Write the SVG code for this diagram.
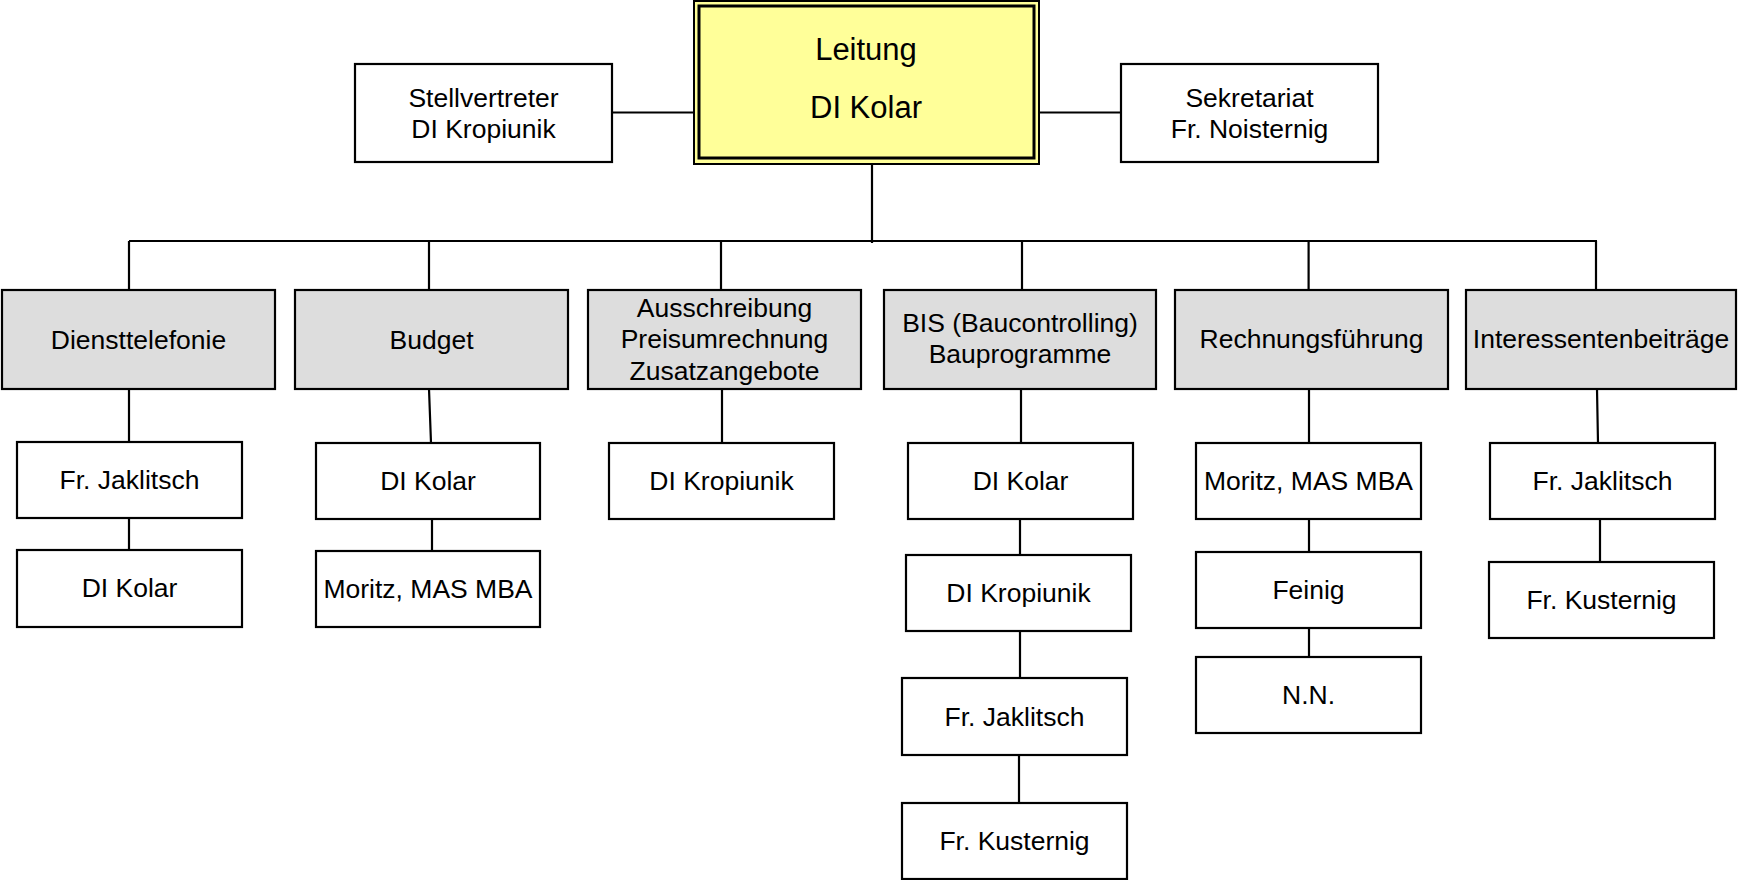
<svg xmlns="http://www.w3.org/2000/svg" width="1738" height="880" viewBox="0 0 1738 880">
<style>
.b{fill:#fff;stroke:#000;stroke-width:2.2}
.g{fill:#dddddd;stroke:#000;stroke-width:2.2}
.y{fill:#ffff99;stroke:#000}
.t{font-family:"Liberation Sans",Arial,sans-serif;font-size:26.5px;fill:#000;text-anchor:middle}
.tl{font-size:31px}
.c{fill:none;stroke:#000;stroke-width:2.2}
</style>
<rect width="1738" height="880" fill="#fff"/>
<g id="connectors" class="c">
<path d="M612 112.5H694M1039 112.5H1121M872 164V243M129 241H1597"/>
<path d="M129 241V290M429 241V290M721 241V290M1022 241V290M1308.6 241V290M1596 241V290"/>
<path d="M129 389V442M429 389L431 443M722 389V443M1021 389V443M1309 389V443M1597 389L1598 443"/>
<path d="M129 518V550M432 519V551M1020 519V555M1020 631V678M1019 755V803M1309 519V552M1309 628V657M1600 519V562"/>
</g>
<g id="leitung">
<rect class="y" x="694" y="1" width="345" height="163" stroke-width="2"/>
<rect class="y" x="699" y="6" width="335" height="152" stroke-width="3"/>
<text class="t tl" x="866" y="60">Leitung</text>
<text class="t tl" x="866" y="118">DI Kolar</text>
</g>
<g id="stellvertreter">
<rect class="b" x="355" y="64" width="257" height="98"/>
<text class="t" x="483.5" y="107">Stellvertreter</text>
<text class="t" x="483.5" y="138">DI Kropiunik</text>
</g>
<g id="sekretariat">
<rect class="b" x="1121" y="64" width="257" height="98"/>
<text class="t" x="1249.5" y="107">Sekretariat</text>
<text class="t" x="1249.5" y="138">Fr. Noisternig</text>
</g>
<g id="diensttelefonie">
<rect class="g" x="2" y="290" width="273" height="99"/>
<text class="t" x="138.5" y="349">Diensttelefonie</text>
</g>
<g id="budget">
<rect class="g" x="295" y="290" width="273" height="99"/>
<text class="t" x="431.5" y="349">Budget</text>
</g>
<g id="ausschreibung">
<rect class="g" x="588" y="290" width="273" height="99"/>
<text class="t" x="724.5" y="317">Ausschreibung</text>
<text class="t" x="724.5" y="348">Preisumrechnung</text>
<text class="t" x="724.5" y="380">Zusatzangebote</text>
</g>
<g id="bis">
<rect class="g" x="884" y="290" width="272" height="99"/>
<text class="t" x="1020" y="332">BIS (Baucontrolling)</text>
<text class="t" x="1020" y="363">Bauprogramme</text>
</g>
<g id="rechnungsfuehrung">
<rect class="g" x="1175" y="290" width="273" height="99"/>
<text class="t" x="1311.5" y="348">Rechnungsführung</text>
</g>
<g id="interessentenbeitraege">
<rect class="g" x="1466" y="290" width="270" height="99"/>
<text class="t" x="1601" y="348">Interessentenbeiträge</text>
</g>
<g id="dienst-jaklitsch">
<rect class="b" x="17" y="442" width="225" height="76"/>
<text class="t" x="129.5" y="489">Fr. Jaklitsch</text>
</g>
<g id="dienst-kolar">
<rect class="b" x="17" y="550" width="225" height="77"/>
<text class="t" x="129.5" y="597">DI Kolar</text>
</g>
<g id="budget-kolar">
<rect class="b" x="316" y="443" width="224" height="76"/>
<text class="t" x="428" y="490">DI Kolar</text>
</g>
<g id="budget-moritz">
<rect class="b" x="316" y="551" width="224" height="76"/>
<text class="t" x="428" y="598">Moritz, MAS MBA</text>
</g>
<g id="aus-kropiunik">
<rect class="b" x="609" y="443" width="225" height="76"/>
<text class="t" x="721.5" y="490">DI Kropiunik</text>
</g>
<g id="bis-kolar">
<rect class="b" x="908" y="443" width="225" height="76"/>
<text class="t" x="1020.5" y="490">DI Kolar</text>
</g>
<g id="bis-kropiunik">
<rect class="b" x="906" y="555" width="225" height="76"/>
<text class="t" x="1018.5" y="602">DI Kropiunik</text>
</g>
<g id="bis-jaklitsch">
<rect class="b" x="902" y="678" width="225" height="77"/>
<text class="t" x="1014.5" y="726">Fr. Jaklitsch</text>
</g>
<g id="bis-kusternig">
<rect class="b" x="902" y="803" width="225" height="76"/>
<text class="t" x="1014.5" y="850">Fr. Kusternig</text>
</g>
<g id="rech-moritz">
<rect class="b" x="1196" y="443" width="225" height="76"/>
<text class="t" x="1308.5" y="490">Moritz, MAS MBA</text>
</g>
<g id="rech-feinig">
<rect class="b" x="1196" y="552" width="225" height="76"/>
<text class="t" x="1308.5" y="599">Feinig</text>
</g>
<g id="rech-nn">
<rect class="b" x="1196" y="657" width="225" height="76"/>
<text class="t" x="1308.5" y="704">N.N.</text>
</g>
<g id="int-jaklitsch">
<rect class="b" x="1490" y="443" width="225" height="76"/>
<text class="t" x="1602.5" y="490">Fr. Jaklitsch</text>
</g>
<g id="int-kusternig">
<rect class="b" x="1489" y="562" width="225" height="76"/>
<text class="t" x="1601.5" y="609">Fr. Kusternig</text>
</g>
</svg>
